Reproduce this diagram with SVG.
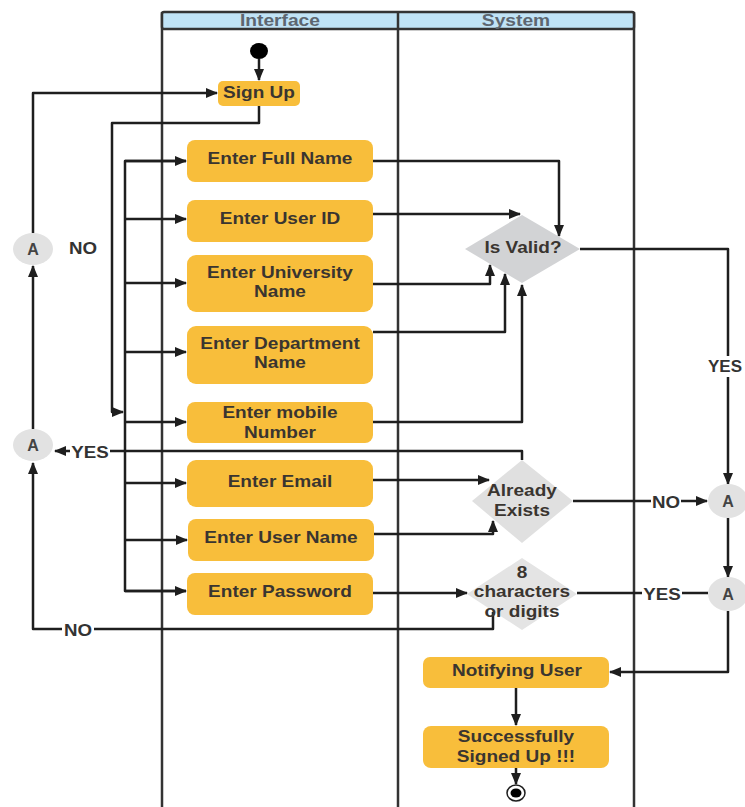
<svg xmlns="http://www.w3.org/2000/svg" width="745" height="807" viewBox="0 0 745 807">
  <style>
    .lane { fill: none; stroke: #333; stroke-width: 2.5; }
    .head { fill: #c0e3f6; stroke: #333; stroke-width: 2.5; }
    .ht { font-family: "Liberation Sans", Arial, sans-serif; font-weight: bold; font-size: 16px; fill: #5d6670; text-anchor: middle; transform-box: fill-box; transform-origin: center; transform: scaleX(1.2); }
    .box { fill: #f8be3b; }
    .t { font-family: "Liberation Sans", Arial, sans-serif; font-weight: bold; font-size: 17px; fill: #3a3530; text-anchor: middle; transform-box: fill-box; transform-origin: center; transform: scaleX(1.12); }
    .lbl { font-family: "Liberation Sans", Arial, sans-serif; font-weight: bold; font-size: 17px; fill: #333; text-anchor: middle; transform-box: fill-box; transform-origin: center; transform: scaleX(1.1); }
    .ct { font-family: "Liberation Sans", Arial, sans-serif; font-weight: bold; font-size: 16px; fill: #444; text-anchor: middle; }
    .conn { fill: none; stroke: #1e1e1e; stroke-width: 2.5; stroke-linejoin: round; }
    .arr { marker-end: url(#ah); }
    .circ { fill: #e2e2e2; }
    .bg { fill: #ffffff; }
  </style>
  <defs>
    <marker id="ah" markerUnits="userSpaceOnUse" markerWidth="12" markerHeight="10" refX="11" refY="5" orient="auto">
      <path d="M0,0 L12,5 L0,10 Z" fill="#1e1e1e"/>
    </marker>
  </defs>

  <!-- swimlanes -->
  <g id="lanes">
    <line class="lane" x1="162" y1="12" x2="162" y2="807"/>
    <line class="lane" x1="398" y1="12" x2="398" y2="807"/>
    <line class="lane" x1="634" y1="12" x2="634" y2="807"/>
    <rect class="head" x="162" y="12" width="472" height="17" rx="2"/>
    <line class="lane" x1="398" y1="12" x2="398" y2="29"/>
    <text class="ht" x="280" y="26">Interface</text>
    <text class="ht" x="516" y="26">System</text>
  </g>

  <!-- connectors -->
  <g id="connectors">
    <path class="conn arr" d="M259,59 V80"/>
    <path class="conn arr" d="M33,233 V93 H217"/>
    <path class="conn arr" d="M259,106 V123 H112 V412 H123"/>
    <path class="conn" d="M186,161 H125 V591 H186"/>
    <path class="conn arr" d="M125,161 H186"/>
    <path class="conn arr" d="M125,219 H186"/>
    <path class="conn arr" d="M125,283 H186"/>
    <path class="conn arr" d="M125,352 H186"/>
    <path class="conn arr" d="M125,422 H186"/>
    <path class="conn arr" d="M125,483 H186"/>
    <path class="conn arr" d="M125,540 H187"/>
    <path class="conn arr" d="M125,591 H186"/>

    <path class="conn arr" d="M373,161 H559 V236"/>
    <path class="conn arr" d="M373,214 H520"/>
    <path class="conn arr" d="M373,284 H490 V265"/>
    <path class="conn arr" d="M373,332 H505 V274"/>
    <path class="conn arr" d="M373,422 H522 V285"/>

    <path class="conn arr" d="M373,480 H489"/>
    <path class="conn arr" d="M374,534 H493 V521"/>
    <path class="conn arr" d="M373,593 H467"/>

    <path class="conn arr" d="M522,460 V451 H55"/>
    <path class="conn arr" d="M493,612 V629 H33 V463"/>
    <path class="conn arr" d="M33,429 V266"/>

    <path class="conn arr" d="M580,249 H728 V484"/>
    <path class="conn arr" d="M573,501 H707"/>
    <path class="conn arr" d="M728,518 V577"/>
    <path class="conn" d="M577,593 H708"/>
    <path class="conn arr" d="M728,611 V672 H610"/>
    <path class="conn arr" d="M516,688 V725"/>
    <path class="conn arr" d="M516,768 V784"/>

    <!-- labels on connectors -->
    <rect class="bg" x="707" y="356" width="38" height="21"/>
    <text class="lbl" x="725" y="372" style="transform:none">YES</text>
    <rect class="bg" x="70" y="441" width="40" height="20"/>
    <text class="lbl" x="90" y="458">YES</text>
    <rect class="bg" x="62" y="620" width="32" height="18"/>
    <text class="lbl" x="78" y="636">NO</text>
    <rect class="bg" x="651" y="492" width="30" height="18"/>
    <text class="lbl" x="666" y="508">NO</text>
    <rect class="bg" x="642" y="584" width="40" height="18"/>
    <text class="lbl" x="662" y="600">YES</text>
    <text class="lbl" x="83" y="254">NO</text>
  </g>

  <g id="start"><ellipse cx="259" cy="51" rx="9" ry="8" fill="#000"/></g>

  <g id="signup">
    <rect class="box" x="218" y="81" width="82" height="25" rx="5"/>
    <text class="t" x="259" y="98">Sign Up</text>
  </g>
  <g id="fullname">
    <rect class="box" x="187" y="140" width="186" height="42" rx="8"/>
    <text class="t" x="280" y="164">Enter Full Name</text>
  </g>
  <g id="userid">
    <rect class="box" x="187" y="200" width="186" height="42" rx="8"/>
    <text class="t" x="280" y="224">Enter User ID</text>
  </g>
  <g id="university">
    <rect class="box" x="187" y="255" width="186" height="57" rx="9"/>
    <text class="t" x="280" y="278">Enter University</text>
    <text class="t" x="280" y="297">Name</text>
  </g>
  <g id="department">
    <rect class="box" x="187" y="326" width="186" height="58" rx="9"/>
    <text class="t" x="280" y="349">Enter Department</text>
    <text class="t" x="280" y="368">Name</text>
  </g>
  <g id="mobile">
    <rect class="box" x="187" y="402" width="186" height="41" rx="8"/>
    <text class="t" x="280" y="418">Enter mobile</text>
    <text class="t" x="280" y="438">Number</text>
  </g>
  <g id="email">
    <rect class="box" x="187" y="460" width="186" height="47" rx="9"/>
    <text class="t" x="280" y="487">Enter Email</text>
  </g>
  <g id="username">
    <rect class="box" x="188" y="519" width="186" height="42" rx="8"/>
    <text class="t" x="281" y="543">Enter User Name</text>
  </g>
  <g id="password">
    <rect class="box" x="187" y="573" width="186" height="42" rx="8"/>
    <text class="t" x="280" y="597">Enter Password</text>
  </g>

  <g id="isvalid">
    <polygon points="522,215 580,249 522,283 465,249" fill="#d2d3d5"/>
    <text class="t" x="523" y="253">Is Valid?</text>
  </g>
  <g id="exists">
    <polygon points="522,460 573,501 522,543 472,501" fill="#e0e0e0"/>
    <text class="t" x="522" y="496">Already</text>
    <text class="t" x="522" y="516">Exists</text>
  </g>
  <g id="length">
    <polygon points="522,558 577,594 522,630 467,594" fill="#e4e4e4"/>
    <text class="t" x="522" y="578">8</text>
    <text class="t" x="522" y="597">characters</text>
    <text class="t" x="522" y="617">or digits</text>
  </g>

  <g id="connA1"><ellipse class="circ" cx="33" cy="249" rx="20" ry="16"/><text class="ct" x="33" y="255">A</text></g>
  <g id="connA2"><ellipse class="circ" cx="33" cy="445" rx="20" ry="16"/><text class="ct" x="33" y="451">A</text></g>
  <g id="connA3"><ellipse class="circ" cx="728" cy="501" rx="20" ry="17"/><text class="ct" x="728" y="507">A</text></g>
  <g id="connA4"><ellipse class="circ" cx="728" cy="594" rx="20" ry="17"/><text class="ct" x="728" y="600">A</text></g>

  <g id="notify">
    <rect class="box" x="423" y="657" width="186" height="31" rx="7"/>
    <text class="t" x="517" y="676">Notifying User</text>
  </g>
  <g id="success">
    <rect class="box" x="423" y="726" width="186" height="42" rx="8"/>
    <text class="t" x="516" y="742">Successfully</text>
    <text class="t" x="516" y="762">Signed Up !!!</text>
  </g>

  <g id="end">
    <ellipse cx="516" cy="793" rx="9" ry="8" fill="#fff" stroke="#1e1e1e" stroke-width="1.5"/>
    <ellipse cx="516" cy="793" rx="5.5" ry="4.5" fill="#000"/>
  </g>
</svg>
